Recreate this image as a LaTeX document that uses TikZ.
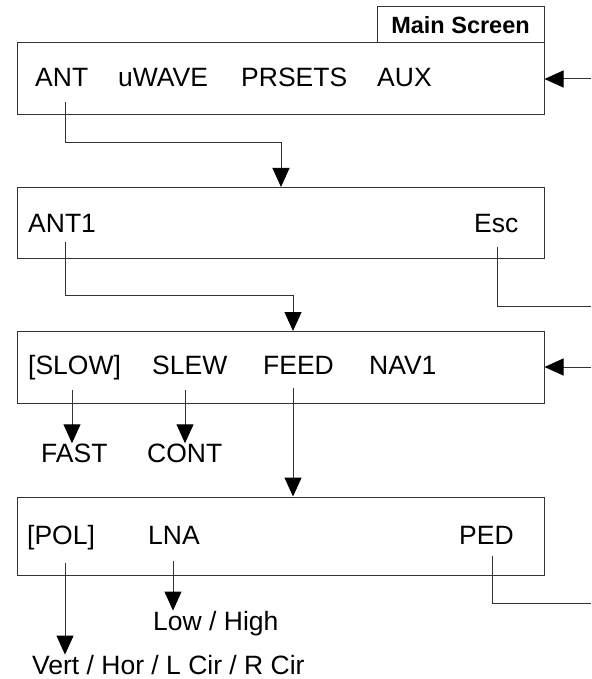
\documentclass[tikz,border=0pt]{standalone}
\usepackage{fontspec}
\setmainfont{Liberation Sans}
\usetikzlibrary{arrows.meta}

\begin{document}
\begin{tikzpicture}[x=1pt,y=-1pt,
  screen/.style={draw=black!80,line width=1pt,minimum width=527pt,inner sep=0pt},
  lbl/.style={anchor=base west,inner sep=0pt,font=\fontsize{26.5}{30}\selectfont},
  flow/.style={draw=black!80,line width=1pt,-{Triangle[length=19pt,width=17pt,black]}},
  wire/.style={draw=black!80,line width=1pt}]
\useasboundingbox (0,0) rectangle (591,679);
% screens
\node[screen,minimum height=72pt] (main) at (280.5,79) {};
\node[screen,minimum width=167pt,minimum height=36pt,
  font=\bfseries\fontsize{23.5}{28}\selectfont] (tab) at (460.5,25) {Main Screen};
\node[screen,minimum height=71pt] (ant1) at (280.5,222.5) {};
\node[screen,minimum height=72pt] (slew) at (280.5,367) {};
\node[screen,minimum height=78pt] (feed) at (280.5,536) {};
% menu items
\node[lbl] (ant) at (35,87) {ANT};
\node[lbl] (uwave) at (118,87) {uWAVE};
\node[lbl] (prsets) at (241,87) {PRSETS};
\node[lbl] (aux) at (377,87) {AUX};
\node[lbl] (antone) at (28,232) {ANT1};
\node[lbl] (esc) at (474,232) {Esc};
\node[lbl] (slow) at (28,374) {[SLOW]};
\node[lbl] (slw) at (152,374) {SLEW};
\node[lbl] (fd) at (263,374) {FEED};
\node[lbl] (nav) at (369,374) {NAV1};
\node[lbl] (fast) at (41,462) {FAST};
\node[lbl] (cont) at (147,462) {CONT};
\node[lbl] (pol) at (27,544) {[POL]};
\node[lbl] (lna) at (148,544) {LNA};
\node[lbl] (ped) at (459,544) {PED};
\node[lbl] (lowhigh) at (153,630) {Low / High};
\node[lbl] (polset) at (32,674) {Vert / Hor / L Cir / R Cir};
% connector ends
\coordinate (ant-out) at (65,102);
\coordinate (ant-in) at (281,187);
\coordinate (ant1-out) at (65,242);
\coordinate (ant1-in) at (293,331);
\coordinate (esc-out) at (497,247);
\coordinate (esc-end) at (591,306);
\coordinate (ped-out) at (492,556);
\coordinate (ped-end) at (591,603);
\coordinate (ret1) at (591,79);
\coordinate (ret3) at (591,367);
\coordinate (slow-out) at (72,390);
\coordinate (cont-out) at (185,390);
\coordinate (feed-out) at (293,388);
\coordinate (pol-out) at (65,563);
\coordinate (lna-out) at (173,561);
% connectors
\draw[flow] (ant-out) -- ++(0,41) -| (ant-in);
\draw[flow] (ant1-out) -- ++(0,53) -| (ant1-in);
\draw[wire] (esc-out) |- (esc-end);
\draw[wire] (ped-out) |- (ped-end);
\draw[flow] (ret1) -- (main.east);
\draw[flow] (ret3) -- (slew.east);
\draw[flow] (slow-out) -- (slow-out |- fast.north);
\draw[flow] (cont-out) -- (cont-out |- cont.north);
\draw[flow] (feed-out) -- (feed-out |- feed.north);
\draw[flow] (pol-out) -- (pol-out |- polset.north);
\draw[flow] (lna-out) -- (lna-out |- lowhigh.north);
\end{tikzpicture}
\end{document}
